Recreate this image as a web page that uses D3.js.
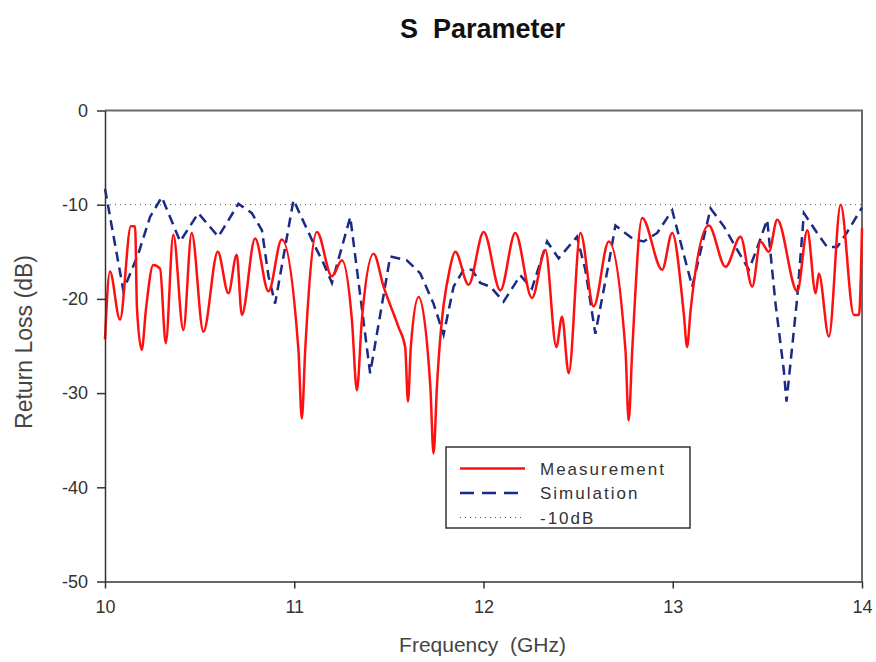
<!DOCTYPE html>
<html>
<head>
<meta charset="utf-8">
<script src="https://cdn.jsdelivr.net/npm/d3@7"></script>
<style>
  body { margin: 0; background: #fff; }
  svg text { font-family: "Liberation Sans", Arial, sans-serif; white-space: pre; }
</style>
</head>
<body>
<div id="chart"></div>
<script>
// S parameter chart: measured vs simulated return loss

const measFreq = [10.000, 10.026, 10.079, 10.137, 10.159, 10.169, 10.194, 10.217, 10.255, 10.291,
  10.321, 10.361, 10.414, 10.458, 10.520, 10.596, 10.652, 10.696, 10.723, 10.793,
  10.864, 10.934, 11.022, 11.040, 11.058, 11.120, 11.199, 11.252, 11.305, 11.331,
  11.357, 11.419, 11.472, 11.551, 11.586, 11.601, 11.616, 11.657, 11.719, 11.736,
  11.754, 11.824, 11.851, 11.921, 12.001, 12.089, 12.168, 12.256, 12.327, 12.385,
  12.415, 12.450, 12.512, 12.582, 12.662, 12.750, 12.767, 12.786, 12.838, 12.944,
  12.997, 13.058, 13.076, 13.093, 13.190, 13.279, 13.358, 13.420, 13.464, 13.508,
  13.552, 13.658, 13.711, 13.755, 13.772, 13.825, 13.887, 13.957, 13.984, 14.000];
const measDb = [-24.3, -17.1, -22.2, -12.3, -12.3, -21.0, -25.4, -21.0, -16.4, -16.8,
  -24.7, -13.2, -23.3, -13.0, -23.5, -15.0, -19.4, -15.3, -21.7, -13.6,
  -19.2, -13.7, -25.4, -32.7, -25.4, -12.9, -17.6, -15.9, -22.3, -29.7,
  -22.3, -15.2, -18.7, -23.0, -25.1, -30.9, -25.1, -19.8, -29.3, -36.4,
  -29.3, -16.6, -15.0, -18.5, -12.9, -19.1, -13.0, -19.9, -14.8, -25.1,
  -21.9, -27.9, -13.0, -20.8, -13.9, -25.4, -32.9, -25.4, -11.4, -16.9,
  -13.0, -21.5, -25.1, -21.5, -12.2, -16.6, -13.4, -18.7, -13.9, -15.0,
  -11.6, -19.2, -12.7, -19.4, -17.3, -24.0, -10.0, -21.7, -21.7, -12.5];

const simFreq = [10.000, 10.097, 10.176, 10.238, 10.300, 10.397, 10.493, 10.599, 10.705, 10.776,
  10.829, 10.864, 10.899, 10.996, 11.102, 11.154, 11.199, 11.296, 11.401, 11.507,
  11.595, 11.666, 11.736, 11.789, 11.842, 11.895, 11.939, 11.983, 12.036, 12.106,
  12.195, 12.256, 12.336, 12.397, 12.494, 12.538, 12.591, 12.662, 12.697, 12.794,
  12.847, 12.918, 12.997, 13.103, 13.200, 13.270, 13.341, 13.402, 13.437, 13.499,
  13.543, 13.587, 13.601, 13.631, 13.658, 13.693, 13.763, 13.816, 13.869, 13.922, 14.000];
const simDb = [-8.3, -19.1, -15.2, -11.3, -9.2, -13.9, -10.9, -13.4, -9.9, -10.9,
  -12.7, -17.6, -20.5, -9.5, -14.1, -16.2, -18.3, -11.3, -27.9, -15.5,
  -15.9, -17.3, -20.5, -23.8, -18.7, -16.9, -16.9, -18.3, -18.7, -20.3,
  -17.5, -18.9, -13.9, -15.7, -13.4, -16.9, -23.7, -16.2, -12.2, -13.7,
  -13.9, -13.0, -10.6, -18.7, -10.4, -12.3, -14.8, -16.9, -15.1, -11.6,
  -20.5, -27.6, -30.9, -25.1, -19.8, -10.9, -13.0, -14.5, -14.5, -12.9, -10.3];

const refLevel = -10;
const xTicks = [10, 11, 12, 13, 14];
const yTicks = [0, -10, -20, -30, -40, -50];
const seriesNames = ["Measurement", "Simulation", "-10dB"];

const width = 876, height = 662;
const margin = {top: 110.5, right: 14, bottom: 80.5, left: 105};
const iw = width - margin.left - margin.right;
const ih = height - margin.top - margin.bottom;

const svg = d3.select("#chart").append("svg")
  .attr("width", width).attr("height", height);

const x = d3.scaleLinear().domain([10, 14]).range([0, iw]);
const y = d3.scaleLinear().domain([-50, 0]).range([ih, 0]);

const g = svg.append("g").attr("transform", `translate(${margin.left},${margin.top})`);

// frame (top and right)
g.append("path")
  .attr("d", `M0,0H${iw}V${ih}`)
  .attr("fill", "none").attr("stroke", "#6a6a6a").attr("stroke-width", 2);

// -10 dB reference
g.append("line")
  .attr("x1", x(10)).attr("x2", x(14))
  .attr("y1", y(refLevel)).attr("y2", y(refLevel))
  .attr("stroke", "#555").attr("stroke-width", 1).attr("stroke-dasharray", "1,4");

const meas = measFreq.map((f, i) => [f, measDb[i]]);
const sim = simFreq.map((f, i) => [f, simDb[i]]);

g.append("path").datum(sim)
  .attr("fill", "none").attr("stroke", "#1b2a85").attr("stroke-width", 2.5)
  .attr("stroke-dasharray", "10,6")
  .attr("d", d3.line().x(d => x(d[0])).y(d => y(d[1])));

g.append("path").datum(meas)
  .attr("fill", "none").attr("stroke", "#ff1010").attr("stroke-width", 2.5)
  .attr("d", d3.line().curve(d3.curveMonotoneX).x(d => x(d[0])).y(d => y(d[1])));

// axes
const fmt = d => String(d);
const xAxis = g.append("g").attr("transform", `translate(0,${ih})`)
  .call(d3.axisBottom(x).tickValues(xTicks).tickFormat(fmt)
    .tickSize(7).tickSizeOuter(0).tickPadding(12));
const yAxis = g.append("g")
  .call(d3.axisLeft(y).tickValues(yTicks).tickFormat(fmt)
    .tickSize(8).tickSizeOuter(0).tickPadding(9));

[xAxis, yAxis].forEach(a => {
  a.select(".domain").attr("stroke", "#333").attr("stroke-width", 1.5);
  a.selectAll(".tick line").attr("stroke", "#333").attr("stroke-width", 1.5);
  a.selectAll(".tick text").attr("fill", "#333").style("font-size", "18px")
    .style("font-family", "'Liberation Sans', Arial, sans-serif");
});

// titles
svg.append("text").attr("x", margin.left + iw / 2 - 1).attr("y", 38)
  .attr("text-anchor", "middle").attr("fill", "#111")
  .style("font-size", "27px").style("font-weight", "bold")
  .text("S  Parameter");

svg.append("text").attr("x", margin.left + iw / 2 - 1).attr("y", 652)
  .attr("text-anchor", "middle").attr("fill", "#444")
  .style("font-size", "21px")
  .text("Frequency  (GHz)");

svg.append("text")
  .attr("transform", `translate(32,342) rotate(-90)`)
  .attr("text-anchor", "middle").attr("fill", "#444")
  .style("font-size", "23px")
  .text("Return Loss (dB)");

// legend
const lg = svg.append("g").attr("transform", "translate(446,447)");
lg.append("rect").attr("width", 244).attr("height", 81)
  .attr("fill", "#fff").attr("stroke", "#333").attr("stroke-width", 1.5);
const legendStyles = [
  {stroke: "#ff1010", dash: null, w: 2.5},
  {stroke: "#1b2a85", dash: "14,8", w: 2.5},
  {stroke: "#555", dash: "1,4", w: 1}
];
seriesNames.forEach((name, i) => {
  const yy = 21.5 + i * 24.5;
  const ln = lg.append("line").attr("x1", 14).attr("x2", 79)
    .attr("y1", yy).attr("y2", yy)
    .attr("stroke", legendStyles[i].stroke).attr("stroke-width", legendStyles[i].w);
  if (legendStyles[i].dash) ln.attr("stroke-dasharray", legendStyles[i].dash);
  lg.append("text").attr("x", 94).attr("y", yy + 6)
    .attr("fill", "#333").style("font-size", "17px").style("letter-spacing", "2px")
    .text(name);
});
</script>
</body>
</html>
